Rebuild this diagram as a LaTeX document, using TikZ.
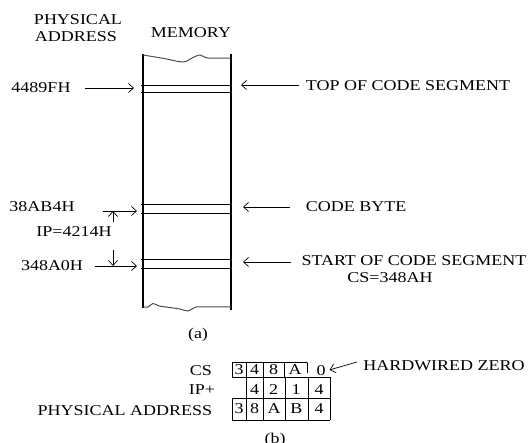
\documentclass[tikz,border=0pt]{standalone}
\usepackage{fontspec}
\setmainfont[FakeStretch=1.2]{Liberation Serif}
\usetikzlibrary{arrows.meta}
\begin{document}
\begin{tikzpicture}[x=1pt,y=-1pt,
  lbl/.style={font=\fontsize{15}{15}\selectfont, inner sep=0pt, anchor=center},
  ptr/.style={-{Straight Barb[length=5pt,width=9pt]}, line width=0.7pt},
  memwall/.style={line width=2pt},
  memline/.style={line width=0.8pt},
  wave/.style={line width=1pt, draw=black!70},
  cell/.style={line width=0.8pt}]
\useasboundingbox (0,0) rectangle (528,443);

% ---------- (a) memory ----------
\coordinate (mLT) at (143,54);
\coordinate (mLB) at (143,308);
\coordinate (mRT) at (231,54);
\coordinate (mRB) at (231,310);
\draw[memwall] (mLT) -- (mLB);
\draw[memwall] (mRT) -- (mRB);
\draw[wave] plot[smooth, tension=0.5] coordinates {(143,55) (164,58.5) (183,62) (192,58) (200,55) (208,58) (231,58)};
\draw[wave] plot[smooth, tension=0.5] coordinates {(143,307) (148,307) (153,303.5) (159,306) (166,307) (180,309) (188,311) (196,307) (210,307) (231,307)};

\foreach \yy in {85,92,204,213,259,268}
  \draw[memline] (141,\yy) -- (231,\yy);

\node[lbl] (phys) at (78,20) {PHYSICAL};
\node[lbl] (addr) at (76,37) {ADDRESS};
\node[lbl] (mem) at (191,33) {MEMORY};

\node[lbl] (a1) at (41,88) {4489FH};
\node[lbl] (a2) at (42,207) {38AB4H};
\node[lbl] (ip) at (74,232) {IP=4214H};
\node[lbl] (a3) at (52,266) {348A0H};

\coordinate (a1s) at (85,88);   \coordinate (a1e) at (134,88);
\coordinate (a2s) at (103,211); \coordinate (a2e) at (137,211);
\coordinate (a3s) at (95,266);  \coordinate (a3e) at (137,266);
\coordinate (ups) at (113,222); \coordinate (upe) at (113,211);
\coordinate (dns) at (113,250); \coordinate (dne) at (113,266);
\draw[ptr] (a1s) -- (a1e);
\draw[ptr] (a2s) -- (a2e);
\draw[ptr] (a3s) -- (a3e);
\draw[ptr] (ups) -- (upe);
\draw[ptr] (dns) -- (dne);

\node[lbl] (tcs) at (408,86) {TOP OF CODE SEGMENT};
\node[lbl] (cb) at (356,207) {CODE BYTE};
\node[lbl] (scs) at (414,261) {START OF CODE SEGMENT};
\node[lbl] (csv) at (390,278) {CS=348AH};

\coordinate (t1) at (241,85);
\coordinate (t2) at (243,207);
\coordinate (t3) at (243,262);
\draw[ptr, shorten <=7pt] (tcs.west |- t1) -- (t1);
\draw[ptr, shorten <=16pt] (cb.west |- t2) -- (t2);
\draw[ptr, shorten <=10pt] (scs.west |- t3) -- (t3);

\node[lbl] (capa) at (198,335) {(a)};

% ---------- (b) address computation ----------
\draw[cell] (306,362) -- (232,362) -- (232,377) -- (330,377);
\draw[cell] (306,362) -- (307.5,363) -- (307.5,373);
\draw[cell] (232,398) -- (330,398);
\draw[cell] (232,420) -- (330,420);
\draw[cell] (232,398) -- (232,420);
\draw[cell] (246,362) -- (246,420);
\draw[cell] (263,362) -- (263,420);
\draw[cell] (284.5,362) -- (284.5,377);
\draw[cell] (284.5,377) -- (285.5,379) -- (285.5,420);
\draw[cell] (308,377) -- (308,420);
\draw[cell] (330,377) -- (330,420);

\node[lbl] (cs) at (201,371) {CS};
\node[lbl] (ipp) at (202,390) {IP+};
\node[lbl] (pa) at (125,411) {PHYSICAL ADDRESS};

\node[lbl] (c1) at (239,370) {3};
\node[lbl] (c2) at (254.5,370) {4};
\node[lbl] (c3) at (273.5,370) {8};
\node[lbl] (c4) at (295,370) {A};
\node[lbl] (c5) at (321,371) {0};

\node[lbl] (i1) at (254.5,390) {4};
\node[lbl] (i2) at (273.5,390) {2};
\node[lbl] (i3) at (296,390) {1};
\node[lbl] (i4) at (319,390) {4};

\node[lbl] (p1) at (239,409) {3};
\node[lbl] (p2) at (254.5,409) {8};
\node[lbl] (p3) at (274,409) {A};
\node[lbl] (p4) at (296.5,409) {B};
\node[lbl] (p5) at (319,409) {4};

\node[lbl] (hz) at (444,366) {HARDWIRED ZERO};
\coordinate (hzt) at (357,362);
\draw[ptr, shorten >=4pt] (hzt) -- (c5.east);
\node[lbl, anchor=north] (capb) at (275,433) {(b)};
\end{tikzpicture}
\end{document}
